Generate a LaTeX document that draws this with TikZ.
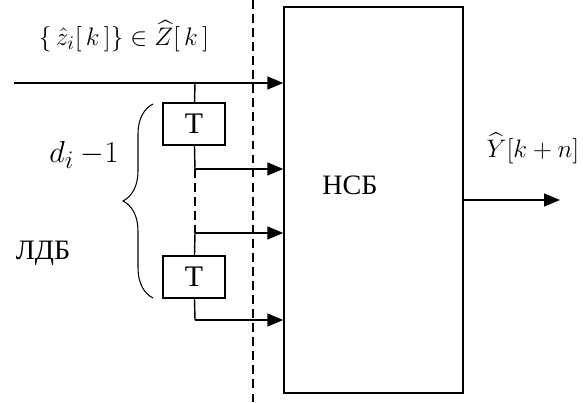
\documentclass[tikz,border=0pt]{standalone}
\usepackage{amsmath, amssymb}
\usepackage{fontspec}
\setmainfont{Liberation Serif}
\usetikzlibrary{arrows.meta,positioning,decorations.pathreplacing}

\begin{document}
\begin{tikzpicture}[
    x=0.02cm, y=0.02cm,
    every node/.style={font=\fontsize{16}{18}\selectfont},
    line/.style={line width=0.8pt},
    delay/.style={rectangle, draw, line width=0.8pt, minimum width=1.24cm, minimum height=0.84cm, inner sep=0pt, font=\fontsize{17}{19}\selectfont},
    block/.style={rectangle, draw, line width=0.8pt, minimum width=3.58cm, minimum height=7.72cm, inner sep=0pt},
    >={Triangle[length=0.32cm, width=0.26cm]}
]
    \useasboundingbox (0,0) rectangle (583,403);

    % network block
    \node[block] (nsb) at (373.5,203) {};
    \node (nsblabel) at (350,218) {НСБ};

    % input line and delay chain
    \coordinate (in) at (14,320);
    \coordinate (tap) at (195,320);
    \node[delay] (t1) at (194,279) {T};
    \node[delay] (t2) at (194,126) {T};
    \coordinate (b1) at (195,234);
    \coordinate (b2) at (195,170);
    \coordinate (b3) at (195,83);

    \draw[line,->] (in) -- (in -| nsb.west);
    \draw[line] (tap) -- (t1);
    \draw[line] (t1) -- (b1);
    \draw[line, dash pattern=on 5pt off 3pt] (b1) -- (b2);
    \draw[line] (b2) -- (t2);
    \draw[line] (t2) -- (b3);
    \draw[line,->] (b1) -- (b1 -| nsb.west);
    \draw[line,->] (b2) -- (b2 -| nsb.west);
    \draw[line,->] (b3) -- (b3 -| nsb.west);

    % boundary
    \coordinate (dtop) at (253,403);
    \coordinate (dbot) at (253,0);
    \draw[line width=1.2pt, dash pattern=on 5pt off 3pt] (dtop) -- (dbot);

    % output
    \coordinate (out) at (560,203);
    \draw[line,->] (nsb.east) -- (out);

    % brace and labels
    \coordinate (brbot) at (153,105);
    \coordinate (brtop) at (153,299);
    \draw[line width=0.6pt, decorate, decoration={brace, amplitude=0.6cm}] (brbot) -- (brtop);
    \node (dlabel) at (84,248) {\fontsize{19}{21}\selectfont $d_i\:{-}1$};
    \node (ldb) at (43,150) {ЛДБ};
    \node (inlabel) at (124,367) {\fontsize{15}{17}\selectfont $\{\,\hat{z}_i[\,k\,]\}\in\widehat{Z}[\,k\,]$};
    \node (outlabel) at (533,255) {\fontsize{14}{16}\selectfont $\widehat{Y}[k+n]$};
\end{tikzpicture}
\end{document}
